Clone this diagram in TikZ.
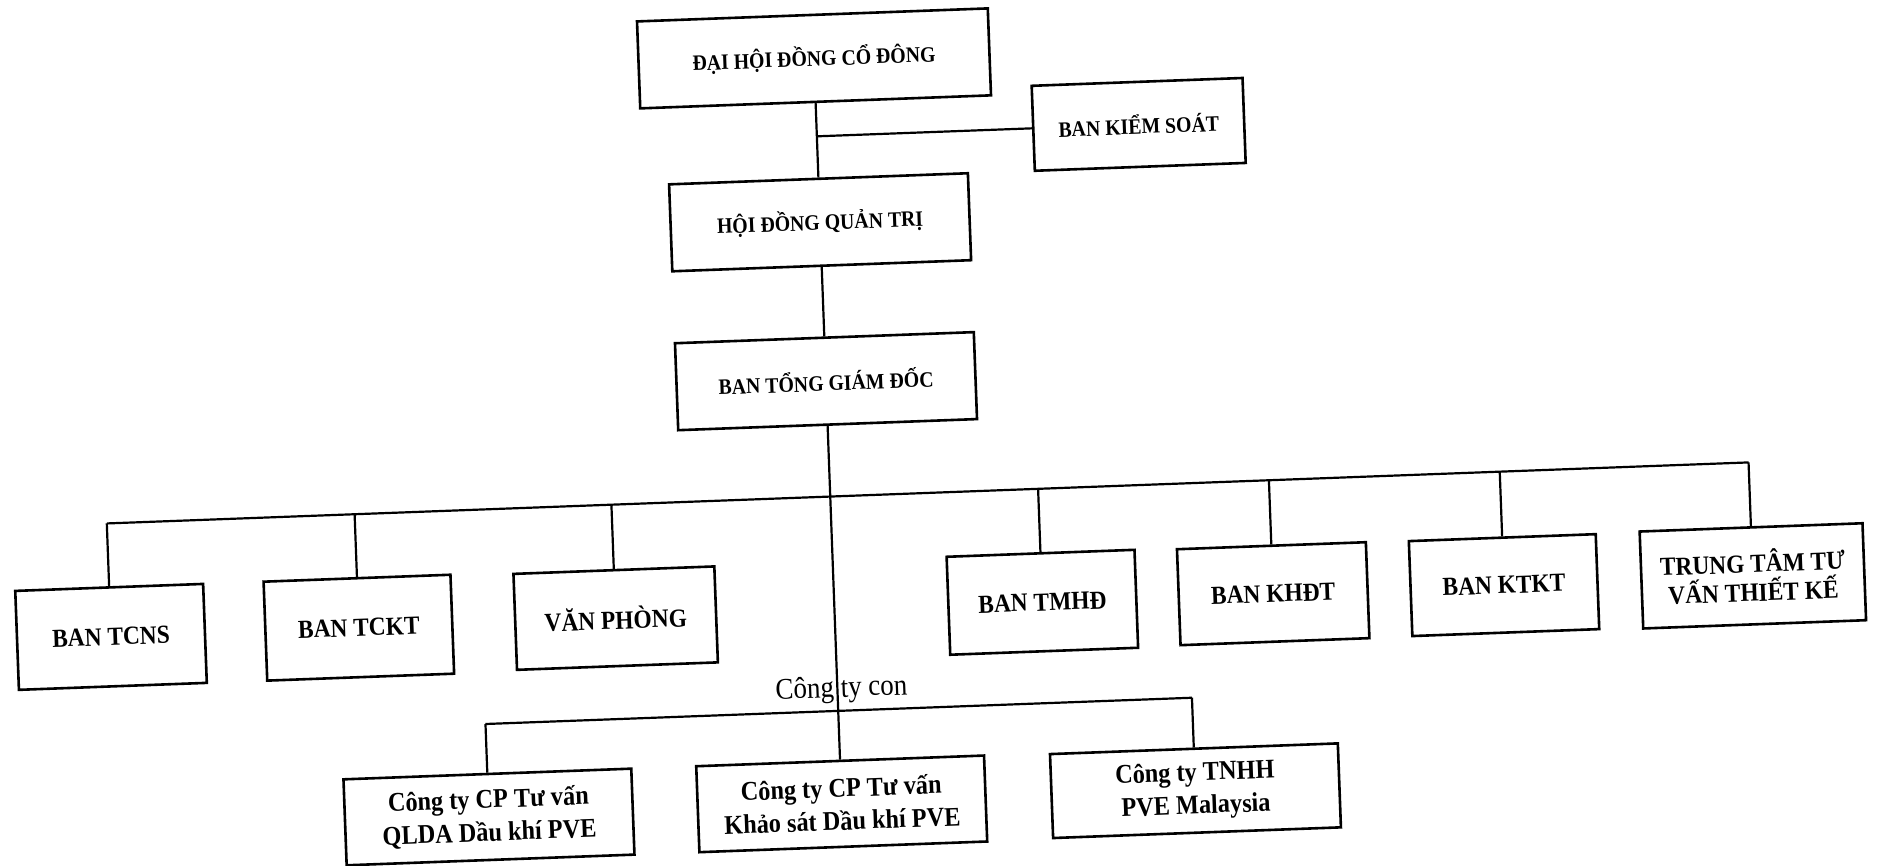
\documentclass[tikz,border=0pt]{standalone}
\usepackage{fontspec}
\setmainfont{Liberation Serif}[FakeStretch=0.9]
\begin{document}
\begin{tikzpicture}[x=1pt,y=-1pt,
  box/.style={draw=black, line width=2.6pt, inner sep=0pt, align=center},
  topbox/.style={box, font=\bfseries\fontsize{22}{26}\selectfont, minimum height=87pt},
  rowbox/.style={box, font=\bfseries\fontsize{26}{29}\selectfont},
  subbox/.style={box, font=\bfseries\fontsize{27}{33}\selectfont, minimum height=86pt, minimum width=288pt},
  link/.style={line width=2.2pt},
  plainlabel/.style={inner sep=0pt, font=\fontsize{30}{34}\selectfont}]
\useasboundingbox (0,0) rectangle (1878,866);
\fill[white] (0,0) rectangle (1878,866);
\begin{scope}[rotate around={2.13:(939,433)}, transform shape]
  % top chain
  \node[topbox, minimum width=351pt] (dh) at (828,54) {ĐẠI HỘI ĐỒNG CỔ ĐÔNG};
  \node[topbox, minimum width=211pt, minimum height=85pt] (bks) at (1150,132) {BAN KIỂM SOÁT};
  \node[topbox, minimum width=299pt] (hdqt) at (828,218) {HỘI ĐỒNG QUẢN TRỊ};
  \node[topbox, minimum width=299pt] (tgd) at (828,377) {BAN TỔNG GIÁM ĐỐC};
  % departments
  \node[rowbox, minimum width=188pt, minimum height=99pt] (tcns) at (104,606) {BAN TCNS};
  \node[rowbox, minimum width=187pt, minimum height=99pt] (tckt) at (352,606) {BAN TCKT};
  \node[rowbox, minimum width=201pt, minimum height=96pt] (vp) at (609,606) {VĂN PHÒNG};
  \node[rowbox, minimum width=188pt, minimum height=98pt] (tmhd) at (1036,606) {BAN TMHĐ};
  \node[rowbox, minimum width=189pt, minimum height=96pt] (khdt) at (1267,606) {BAN KHĐT};
  \node[rowbox, minimum width=187pt, minimum height=95pt] (ktkt) at (1498,606) {BAN KTKT};
  \node[rowbox, minimum width=223pt, minimum height=97pt] (tt) at (1747,606) {TRUNG TÂM TƯ\\VẤN THIẾT KẾ};
  % subsidiaries
  \node[plainlabel] (con) at (832,686) {Công ty con};
  \node[subbox] (qlda) at (475,800) {Công ty CP Tư vấn\\QLDA Dầu khí PVE};
  \node[subbox] (ks) at (828,800) {Công ty CP Tư vấn\\Khảo sát Dầu khí PVE};
  \node[subbox, minimum height=84pt] (my) at (1182,800) {Công ty TNHH\\PVE Malaysia};
  % bus coordinates
  \coordinate (bus) at (0,492.5);
  \coordinate (sub) at (0,707);
  % connectors
  \draw[link] (dh.south) -- (hdqt.north);
  \draw[link] (bks.west -| dh.south) -- (bks.west);
  \draw[link] (hdqt.south) -- (tgd.north);
  \draw[link] (tgd.south) -- (ks.north);
  \draw[link] (tcns.north |- bus) -- (tt.north |- bus);
  \foreach \n in {tcns,tckt,vp,tmhd,khdt,ktkt,tt}
    \draw[link] (\n.north |- bus) -- (\n.north);
  \draw[link] (qlda.north |- sub) -- (my.north |- sub);
  \draw[link] (qlda.north |- sub) -- (qlda.north);
  \draw[link] (my.north |- sub) -- (my.north);
\end{scope}
\end{tikzpicture}
\end{document}
